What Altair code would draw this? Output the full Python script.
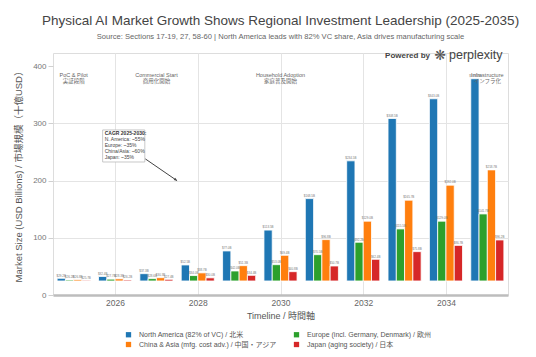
import altair as alt
import pandas as pd

# ---------------- data ----------------
years = list(range(2025, 2036))
regions = [
    "North America (82% of VC) / 北米",
    "Europe (incl. Germany, Denmark) / 欧州",
    "China & Asia (mfg. cost adv.) / 中国・アジア",
    "Japan (aging society) / 日本",
]
north_america = [29.2, 32.4, 37.3, 52.5, 77.0, 113.5, 168.5, 234.5, 308.5, 343.0, 378.0]
europe = [26.2, 27.7, 28.6, 34.0, 42.0, 53.0, 70.5, 92.2, 115.5, 129.0, 141.7]
china_asia = [26.8, 28.3, 30.3, 38.7, 51.3, 69.4, 96.8, 129.0, 165.7, 192.0, 218.7]
japan = [25.7, 26.2, 27.4, 30.0, 34.4, 40.8, 50.7, 62.4, 75.8, 86.7, 96.2]
bar_base = 24.5
colors = ["#1f77b4", "#2ca02c", "#ff7f0e", "#d62728"]

phase_years = [2025, 2027, 2030, 2035]
phase_text = ["PoC & Pilot\n実証段階", "Commercial Start\n商用化開始",
              "Household Adoption\n家庭普及開始", "Infrastructure\nインフラ化"]
phase_level = 388

cagr_title = "CAGR 2025-2030:"
cagr_lines = "N. America: ~55%\nEurope: ~35%\nChina/Asia: ~60%\nJapan: ~35%"
cagr_box = {"x": 2025.70, "x2": 2026.72, "y": 288.5, "y2": 232.5}
arrow_from = (2026.73, 238.0)
arrow_to = (2027.50, 199.8)

FONT = "Liberation Sans, Arial, Noto Sans CJK JP, sans-serif"

series = [north_america, europe, china_asia, japan]
rows = []
for i, (reg, vals) in enumerate(zip(regions, series)):
    for yr, v in zip(years, vals):
        rows.append({"year": yr, "region": reg, "value": v, "base": bar_base, "slot": i})
df = pd.DataFrame(rows)

xscale = alt.Scale(domain=[2024.5, 2035.5], nice=False, zero=False)
yscale = alt.Scale(domain=[0, 423], nice=False)

x_axis = alt.Axis(values=[2026, 2028, 2030, 2032, 2034], format="d", title="Timeline / 時間軸",
                  grid=True, gridColor="#e4e4e4", ticks=False, domainColor="#bdbdbd", domainWidth=2.5,
                  labelFontSize=8.5, labelColor="#666", labelPadding=3, labelFont=FONT,
                  titleFontSize=9, titleColor="#555", titlePadding=5, titleFont=FONT,
                  titleFontWeight="normal")
y_axis = alt.Axis(values=list(range(0, 401, 50)), title="Market Size (USD Billions) / 市場規模（十億USD）",
                  domain=False, tickSize=5, tickColor="#d0d0d0", grid=True, gridColor="#e4e4e4",
                  gridOpacity=alt.condition("datum.value >= 400", alt.value(0), alt.value(1)),
                  labelFontSize=8, labelColor="#777", labelPadding=2, labelFont=FONT,
                  titleFontSize=9.5, titleColor="#555", titlePadding=9, titleFont=FONT,
                  titleFontWeight="normal")

bars_base = alt.Chart(df).transform_calculate(
    x0="datum.year - 0.4 + datum.slot * 0.2",
    x1="datum.year - 0.2 + datum.slot * 0.2",
    xc="datum.year - 0.3 + datum.slot * 0.2",
    label="'$' + format(datum.value, '.1f') + 'B'",
)

bars = bars_base.mark_bar(stroke="white", strokeWidth=0.8).encode(
    x=alt.X("x0:Q", scale=xscale, axis=x_axis),
    x2="x1:Q",
    y=alt.Y("value:Q", scale=yscale, axis=y_axis),
    y2="base:Q",
    color=alt.Color("region:N", scale=alt.Scale(domain=regions, range=colors),
                    legend=alt.Legend(title=None, orient="none", legendX=72, legendY=278,
                                      direction="horizontal", columns=2, columnPadding=16,
                                      rowPadding=2,
                                      symbolType="square", symbolSize=28, symbolStrokeWidth=0,
                                      labelFontSize=7, labelColor="#555", labelFont=FONT,
                                      labelOffset=7, labelLimit=300)),
)

bar_labels = bars_base.mark_text(fontSize=3, color="#777", dy=-3, font=FONT).encode(
    x=alt.X("xc:Q", scale=xscale), y=alt.Y("value:Q", scale=yscale), text="label:N")

phase_df = pd.DataFrame({"year": phase_years, "text": phase_text, "y": [phase_level] * 4})
phases = alt.Chart(phase_df).mark_text(fontSize=5.5, color="#666", baseline="top", lineBreak="\n",
                                       lineHeight=6, font=FONT).encode(
    x=alt.X("year:Q", scale=xscale), y=alt.Y("y:Q", scale=yscale), text="text:N")

box_df = pd.DataFrame([cagr_box])
box = alt.Chart(box_df).mark_rect(fill="white", stroke="#bbb", strokeWidth=0.8).encode(
    x=alt.X("x:Q", scale=xscale), x2="x2:Q", y=alt.Y("y:Q", scale=yscale), y2="y2:Q")

cagr_head_df = pd.DataFrame({"x": [cagr_box["x"] + 0.05], "y": [cagr_box["y"] - 2], "t": [cagr_title]})
cagr_head = alt.Chart(cagr_head_df).mark_text(fontSize=5, fontWeight="bold", color="#333", align="left",
                                              baseline="top", font=FONT).encode(
    x=alt.X("x:Q", scale=xscale), y=alt.Y("y:Q", scale=yscale), text="t:N")
cagr_body_df = pd.DataFrame({"x": [cagr_box["x"] + 0.05], "y": [cagr_box["y"] - 12.5], "t": [cagr_lines]})
cagr_body = alt.Chart(cagr_body_df).mark_text(fontSize=5, color="#444", align="left", baseline="top",
                                              lineBreak="\n", lineHeight=6, font=FONT).encode(
    x=alt.X("x:Q", scale=xscale), y=alt.Y("y:Q", scale=yscale), text="t:N")

arrow_df = pd.DataFrame({"x": [arrow_from[0]], "y": [arrow_from[1]], "x2": [arrow_to[0]], "y2": [arrow_to[1]]})
arrow_line = alt.Chart(arrow_df).mark_rule(color="#444", strokeWidth=1).encode(
    x=alt.X("x:Q", scale=xscale), y=alt.Y("y:Q", scale=yscale), x2="x2:Q", y2="y2:Q")
head_df = pd.DataFrame({"x": [arrow_to[0]], "y": [arrow_to[1]]})
arrow_head = alt.Chart(head_df).mark_point(shape="M0,0L-0.45,1L0.45,1Z", filled=True, color="#444",
                                           size=40, angle=125, opacity=1).encode(
    x=alt.X("x:Q", scale=xscale), y=alt.Y("y:Q", scale=yscale))

brand_df = pd.DataFrame({"a": [0]})
powered = alt.Chart(brand_df).mark_text(text="Powered by", fontSize=8, fontWeight="bold", color="#444",
                                        align="right", baseline="middle", font=FONT).encode(
    x=alt.value(377), y=alt.value(3))
logo = alt.Chart(brand_df).mark_text(text="❋", fontSize=14, color="#555", align="center",
                                     baseline="middle", font="DejaVu Sans").encode(
    x=alt.value(387), y=alt.value(3))
perplexity = alt.Chart(brand_df).mark_text(text="perplexity", fontSize=12.5, color="#444",
                                           align="left", baseline="middle", font=FONT).encode(
    x=alt.value(396), y=alt.value(2))

chart = alt.layer(
    bars, phases, bar_labels, arrow_line, arrow_head, box, cagr_head, cagr_body,
    powered, logo, perplexity,
).properties(
    width=455, height=242,
    padding={"left": 53, "top": 53, "right": 28, "bottom": 62},
    autosize=alt.AutoSizeParams(type="none"),
    title=alt.Title(
        "Physical AI Market Growth Shows Regional Investment Leadership (2025-2035)",
        subtitle="Source: Sections 17-19, 27, 58-60 | North America leads with 82% VC share, Asia drives manufacturing scale",
        fontSize=13.5, color="#444", font=FONT, fontWeight="normal",
        subtitleFontSize=7.6, subtitleColor="#666", subtitleFont=FONT, subtitlePadding=6,
        anchor="middle", offset=8,
    ),
).configure_view(stroke=None).configure(background="white")

chart.save("out.html", embed_options={"renderer": "svg", "actions": False})
